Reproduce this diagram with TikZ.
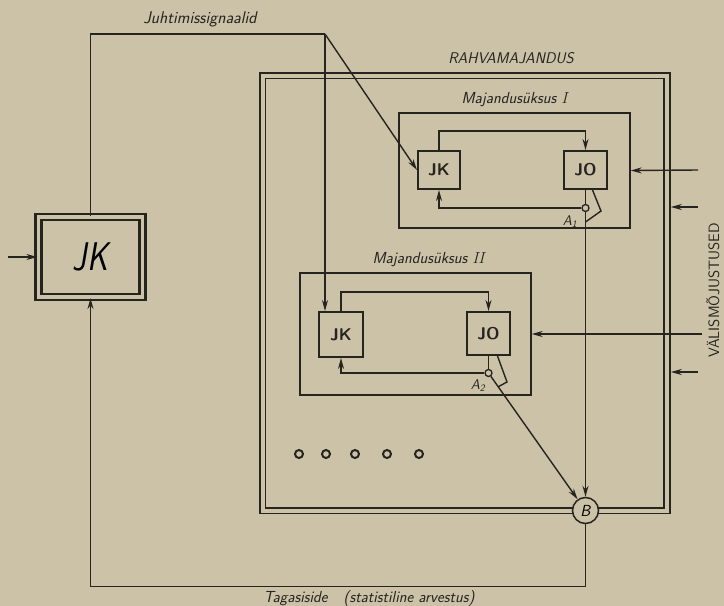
\documentclass[tikz,border=0pt]{standalone}
\usepackage{fontspec}
\usepackage{graphicx}
\usetikzlibrary{positioning,arrows.meta,calc}
\definecolor{paper}{HTML}{CBC2A8}
\definecolor{ink}{HTML}{26241F}

\begin{document}
\begin{tikzpicture}[x=1pt, y=-1pt,
  frame/.style={draw=ink, double=paper, line width=1.6pt, double distance=4pt, inner sep=0pt},
  unitbox/.style={draw=ink, line width=1.4pt, minimum width=231pt, inner sep=0pt},
  blk/.style={draw=ink, line width=2pt, inner sep=0pt, text=ink,
              font=\sffamily\bfseries\fontsize{17}{17}\selectfont},
  sensor/.style={circle, draw=ink, line width=1.3pt, minimum size=7pt, inner sep=0pt},
  dot/.style={circle, draw=ink, line width=2pt, minimum size=8pt, inner sep=0pt},
  ln/.style={draw=ink, line width=1.4pt},
  arr/.style={ln, -{Stealth[length=11pt, width=6pt]}},
  lab/.style={font=\sffamily\itshape\fontsize{16}{16}\selectfont, text=ink}]
\useasboundingbox (0,0) rectangle (724,606);
\fill[paper] (0,0) rectangle (724,606);
% outer frame and controller
\node[frame, minimum width=404.5pt, minimum height=435pt] (econ) at (464.75,293) {};
\node[lab, font=\sffamily\itshape\fontsize{15.5}{15.5}\selectfont] (econlab) at (511,58) {RAHVAMAJANDUS};
\node[frame, line width=2.2pt, double distance=3.8pt, minimum width=104pt, minimum height=80pt] (jk) at (90.5,257)
  {\scalebox{0.8}[1]{\sffamily\itshape\fontsize{40}{40}\selectfont JK}};
% economic unit I
\node[unitbox, minimum height=115pt] (u1) at (514.5,170.5) {};
\node[lab, above=2pt of u1] (u1lab) {Majandusüksus {\rmfamily I}};
\node[blk, minimum width=42pt, minimum height=38pt] (jk1) at (439,170) {JK};
\node[blk, minimum width=43pt, minimum height=38pt] (jo1) at (585.5,170) {JO};
\node[sensor] (a1) at (585.5,208) {};
\node[lab, font=\sffamily\itshape\fontsize{14}{14}\selectfont] (a1lab) at (570,222) {A\textsubscript{1}};
% economic unit II
\node[unitbox, minimum height=122pt] (u2) at (415.5,334) {};
\node[lab, above=2pt of u2, xshift=13pt] (u2lab) {Majandusüksus {\rmfamily II}};
\node[blk, minimum width=44pt, minimum height=45pt] (jk2) at (341,334.5) {JK};
\node[blk, minimum width=43pt, minimum height=43pt] (jo2) at (488.5,333.5) {JO};
\node[sensor] (a2) at (488.5,373) {};
\node[lab, font=\sffamily\itshape\fontsize{14}{14}\selectfont] (a2lab) at (478,386) {A\textsubscript{2}};
% summing point
\node[circle, draw=ink, line width=1.5pt, fill=paper, minimum size=26pt, inner sep=0pt,
      font=\sffamily\itshape\fontsize{16}{16}\selectfont] (b) at (585.5,510.5) {B};
\foreach \x in {299,326,355,387,419}
  \node[dot] (dot\x) at (\x,454) {};
% control signals
\coordinate (sig) at (325,34);
\node[lab, font=\sffamily\itshape\fontsize{17}{17}\selectfont] (siglab) at (200,19) {Juhtimissignaalid};
\draw[ln] (jk.north) |- (sig);
\draw[arr] (sig) -- (jk1.west);
\draw[arr] (sig) -- (sig |- jk2.north);
% loops inside the units
\draw[arr] (jk1.north) -- ++(0,-19) -| (jo1.north);
\draw[ln] (jo1.south) -- (a1.north);
\draw[arr] (a1.west) -| (jk1.south);
\draw[ln] ($(jo1.south)+(7,0)$) -- (601,211) -- ($(a1)+(0,14)$);
\draw[arr] (jk2.north) -- ++(0,-19) -| (jo2.north);
\draw[ln] (jo2.south) -- (a2.north);
\draw[arr] (a2.west) -| (jk2.south);
\draw[ln] ($(jo2.south)+(9,0)$) -- (507,382) -- ($(a2)!0.1!(b)$);
\draw[arr] (a1.south) -- (b.north);
\draw[arr] (a2) -- (b);
% feedback
\draw[arr] (b.south) -- ++(0,62) -| (jk.south);
\node[lab] (fblab) at (369,598) {Tagasiside\quad(statistiline arvestus)};
% inputs
\coordinate (in) at (8,257);
\draw[arr] (in) -- (jk.west);
\coordinate (x1) at (698,170);
\coordinate (x2) at (698,207);
\coordinate (x3) at (702,334);
\coordinate (x4) at (698,372);
\draw[arr] (x1) -- (u1.east);
\draw[arr] (x2) -- ($(x2 -| econ.east)+(3,0)$);
\draw[arr] (x3) -- (u2.east);
\draw[arr] (x4) -- ($(x4 -| econ.east)+(3,0)$);
\node[lab, font=\sffamily\fontsize{15}{15}\selectfont, rotate=90] (extlab) at (713,290) {VÄLISMÕJUSTUSED};
\end{tikzpicture}
\end{document}
